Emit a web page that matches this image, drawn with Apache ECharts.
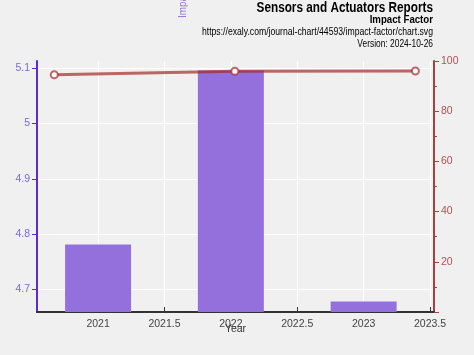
<!DOCTYPE html>
<html>
<head>
<meta charset="utf-8">
<script src="https://cdn.jsdelivr.net/npm/echarts@6/dist/echarts.min.js"></script>
<style>
html,body{margin:0;padding:0;background:#f0f0f0;}
#c{width:474px;height:355px;}
</style>
</head>
<body>
<div id="c"></div>
<script>
// Data
const barYears = [2021, 2022, 2023];
const impactFactor = [4.781, 5.096, 4.678];
const lineX = [2020.67, 2022.03, 2023.39];
const lineValues = [94.5, 95.9, 96.0];
const xTicks = [2021, 2021.5, 2022, 2022.5, 2023, 2023.5];
const yLeftTicks = [4.7, 4.8, 4.9, 5, 5.1];
const titleText = 'Sensors and Actuators Reports';
const subtitleText = 'Impact Factor';
const urlText = 'https://exaly.com/journal-chart/44593/impact-factor/chart.svg';
const versionText = 'Version: 2024-10-26';

const FONT = '"Liberation Sans", Arial, sans-serif';
const chart = echarts.init(document.getElementById('c'), null, {renderer: 'canvas'});

function headText(text, y, font, sx) {
  return {type: 'text', x: 433, y: y, scaleX: sx, scaleY: 1,
    style: {text: text, font: font, fill: '#000', textAlign: 'right', textVerticalAlign: 'top'}};
}

const option = {
  backgroundColor: '#f0f0f0',
  animation: false,
  textStyle: {fontFamily: FONT},
  grid: {left: 37, right: 40, top: 61, bottom: 43, containLabel: false},
  graphic: [
    headText(titleText, 1, 'bold 14px ' + FONT, 0.84),
    headText(subtitleText, 14, 'bold 11.5px ' + FONT, 0.84),
    headText(urlText, 27, '10px ' + FONT, 0.865),
    headText(versionText, 39, '10px ' + FONT, 0.84),
    {type: 'text', x: 188, y: 18, rotation: Math.PI / 2, scaleX: 0.9,
      style: {text: 'Impact Factor', font: '11px ' + FONT, fill: '#8a6ad8', textAlign: 'left', textVerticalAlign: 'bottom'}}
  ],
  xAxis: {
    type: 'value',
    min: 2020.54,
    max: 2023.53,
    name: 'Year',
    nameLocation: 'middle',
    nameGap: 12,
    nameMoveOverlap: false,
    nameTextStyle: {fontSize: 10.5, color: '#333', fontFamily: FONT},
    axisLine: {show: true, lineStyle: {color: '#333', width: 2}},
    axisTick: {show: true, inside: true, length: 5, customValues: xTicks, lineStyle: {color: '#333', width: 1}},
    axisLabel: {customValues: xTicks, margin: 7, fontSize: 10.5, color: '#444', fontFamily: FONT,
      formatter: v => String(v)},
    splitLine: {show: true, lineStyle: {color: '#ffffff', width: 1}}
  },
  yAxis: [
    {
      type: 'value',
      min: 4.659,
      max: 5.113,
      position: 'left',
      axisLine: {show: true, lineStyle: {color: '#5a2bd4', width: 2}},
      axisTick: {show: true, inside: false, length: 5, customValues: yLeftTicks, lineStyle: {color: '#5a2bd4'}},
      axisLabel: {customValues: yLeftTicks, margin: 7, fontSize: 10.5, color: '#7b68d8', fontFamily: FONT,
        formatter: v => String(Math.round(v * 10) / 10)},
      splitLine: {show: true, lineStyle: {color: '#ffffff', width: 1}}
    },
    {
      type: 'value',
      min: 0,
      max: 100,
      interval: 20,
      position: 'right',
      axisLine: {show: true, lineStyle: {color: '#a84040', width: 2}},
      axisTick: {show: true, inside: false, length: 5, lineStyle: {color: '#a84040'}},
      minorTick: {show: true, splitNumber: 2, length: 3, lineStyle: {color: '#a84040'}},
      axisLabel: {margin: 7, fontSize: 10.5, color: '#b05050', fontFamily: FONT,
        formatter: v => v === 0 ? '' : String(v)},
      splitLine: {show: false}
    }
  ],
  series: [
    {
      type: 'bar',
      xAxisIndex: 0,
      yAxisIndex: 0,
      barWidth: 66,
      itemStyle: {color: '#9370db'},
      data: barYears.map((y, i) => [y, impactFactor[i]]),
      z: 2
    },
    {
      type: 'line',
      xAxisIndex: 0,
      yAxisIndex: 1,
      symbol: 'circle',
      symbolSize: 7,
      lineStyle: {color: 'rgba(165,42,42,0.7)', width: 3},
      itemStyle: {color: '#ffffff', borderColor: 'rgba(165,42,42,0.7)', borderWidth: 2},
      data: lineX.map((x, i) => [x, lineValues[i]]),
      z: 3
    }
  ]
};
chart.setOption(option);
</script>
</body>
</html>
